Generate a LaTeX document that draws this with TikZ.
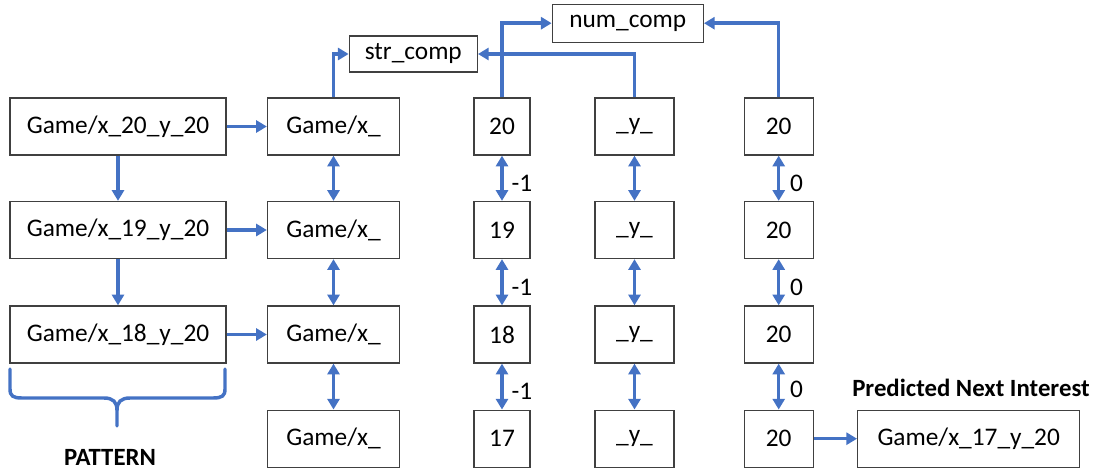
\documentclass[tikz,border=0pt]{standalone}
\usepackage{fontspec}
\setmainfont{Carlito}
\usetikzlibrary{arrows.meta}
\definecolor{arrblue}{HTML}{4472C4}
\definecolor{boxgray}{HTML}{404040}
\begin{document}
\begin{tikzpicture}[x=0.75pt,y=-0.75pt,
  box/.style={draw=boxgray,line width=1pt,inner sep=0pt,minimum height=42.75pt,font=\fontsize{19}{23}\selectfont},
  cbox/.style={draw=boxgray,line width=1pt,inner sep=0pt,font=\fontsize{19}{23}\selectfont},
  conn/.style={draw=arrblue,line width=2.6pt,-{Triangle[length=8pt,width=9pt]}},
  dconn/.style={draw=arrblue,line width=2.6pt,{Triangle[length=8pt,width=9pt]}-{Triangle[length=8pt,width=9pt]}},
  lbl/.style={font=\fontsize{19}{23}\selectfont,inner sep=0pt},
  blbl/.style={font=\bfseries\fontsize{18.6}{22}\selectfont,inner sep=0pt}]
\useasboundingbox (0,0) rectangle (1100,471);
% column 1
\node[box,minimum width=162pt] (a1) at (118,126.5) {Game/x\_20\_y\_20};
\node[box,minimum width=162pt] (a2) at (118,230) {Game/x\_19\_y\_20};
\node[box,minimum width=162pt] (a3) at (118,334.5) {Game/x\_18\_y\_20};
% column 2
\node[box,minimum width=99pt] (b1) at (333.5,126.5) {Game/x\_};
\node[box,minimum width=99pt] (b2) at (333.5,230) {Game/x\_};
\node[box,minimum width=99pt] (b3) at (333.5,334.5) {Game/x\_};
\node[box,minimum width=99pt] (b4) at (333.5,438.7) {Game/x\_};
% column 3
\node[box,minimum width=42pt] (c1) at (502,126.5) {20};
\node[box,minimum width=42pt] (c2) at (502,230) {19};
\node[box,minimum width=42pt] (c3) at (502,334.5) {18};
\node[box,minimum width=42pt] (c4) at (502,438.7) {17};
% column 4
\node[box,minimum width=59.25pt] (d1) at (634.5,126.5) {\_y\_};
\node[box,minimum width=59.25pt] (d2) at (634.5,230) {\_y\_};
\node[box,minimum width=59.25pt] (d3) at (634.5,334.5) {\_y\_};
\node[box,minimum width=59.25pt] (d4) at (634.5,438.7) {\_y\_};
% column 5
\node[box,minimum width=51.75pt] (e1) at (778.7,126.5) {20};
\node[box,minimum width=51.75pt] (e2) at (778.7,230) {20};
\node[box,minimum width=51.75pt] (e3) at (778.7,334.5) {20};
\node[box,minimum width=51.75pt] (e4) at (778.7,438.7) {20};
% predicted
\node[box,minimum width=166.5pt] (p) at (968.7,438.7) {Game/x\_17\_y\_20};
% comparators
\node[cbox,minimum width=96pt,minimum height=27pt] (str) at (413.3,54) {str\_comp};
\node[cbox,minimum width=113.25pt,minimum height=28.5pt] (num) at (627.8,23.2) {num\_comp};
% labels
\node[blbl] (pni) at (971,388) {Predicted Next Interest};
\node[blbl] (pat) at (110,457) {PATTERN};
\node[lbl] (l1) at (522,183) {-1};
\node[lbl] (l2) at (522,287) {-1};
\node[lbl] (l3) at (522,391) {-1};
\node[lbl] (m1) at (796.5,183) {0};
\node[lbl] (m2) at (796.5,287) {0};
\node[lbl] (m3) at (796.5,389) {0};
% connectors
\draw[conn] (a1.east) -- (b1.west);
\draw[conn] (a2.east) -- (b2.west);
\draw[conn] (a3.east) -- (b3.west);
\draw[conn] (a1.south) -- (a2.north);
\draw[conn] (a2.south) -- (a3.north);
\foreach \n in {b,c,d,e}{
  \draw[dconn] (\n1.south) -- (\n2.north);
  \draw[dconn] (\n2.south) -- (\n3.north);
  \draw[dconn] (\n3.south) -- (\n4.north);
}
\draw[conn] (e4.east) -- (p.west);
\draw[conn] (b1.north) |- (str.west);
\draw[conn] (d1.north) |- (str.east);
\draw[conn] (c1.north) |- (num.west);
\draw[conn] (e1.north) |- (num.east);
% brace
\draw[arrblue,line width=2.6pt,line cap=round]
  (10,369) -- (10,389) .. controls (10,396) and (13,398) .. (22,398)
  -- (104,398) .. controls (113,398) and (117,402) .. (117,410) -- (117,426);
\draw[arrblue,line width=2.6pt,line cap=round]
  (225,369) -- (225,389) .. controls (225,396) and (222,398) .. (213,398)
  -- (130,398) .. controls (121,398) and (117,402) .. (117,410);
\end{tikzpicture}
\end{document}
